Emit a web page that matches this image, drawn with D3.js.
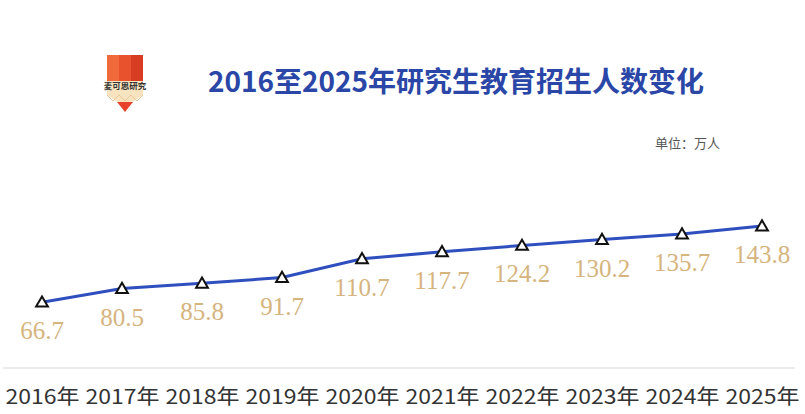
<!DOCTYPE html>
<html>
<head>
<meta charset="utf-8">
<script src="https://cdn.jsdelivr.net/npm/d3@7"></script>
<style>
  body { margin: 0; background: #fff; }
  svg { display: block; }
</style>
</head>
<body>
<svg id="chart"></svg>
<script>
// data
const years = ["2016年", "2017年", "2018年", "2019年", "2020年", "2021年", "2022年", "2023年", "2024年", "2025年"];
const enrollment = [66.7, 80.5, 85.8, 91.7, 110.7, 117.7, 124.2, 130.2, 135.7, 143.8];
const title = "2016至2025年研究生教育招生人数变化";
const unitLabel = "单位：万人";

const width = 805, height = 414;
const svg = d3.select("#chart").attr("width", width).attr("height", height);

// scales
const x = d3.scalePoint().domain(years).range([42, 762]);
const y = d3.scaleLinear().domain([0, 150]).range([368, 220]);

// logo (pencil)
const logo = svg.append("g").attr("transform", "translate(107,55)");
logo.append("rect").attr("x", 0).attr("y", 0).attr("width", 12).attr("height", 26).attr("fill", "#f06a3c");
logo.append("rect").attr("x", 12).attr("y", 0).attr("width", 12).attr("height", 26).attr("fill", "#e8532e");
logo.append("rect").attr("x", 24).attr("y", 0).attr("width", 12).attr("height", 26).attr("fill", "#d63d22");
logo.append("path").attr("d", "M0,26 L36,26 L36,40 L18,52 L0,40 Z").attr("fill", "#f7e3c0");
logo.append("path").attr("d", "M0,40 L6,46 L12,40 L18,46 L24,40 L30,46 L36,40").attr("fill", "none").attr("stroke", "#e8c896").attr("stroke-width", 1);
logo.append("path").attr("d", "M10,47 L26,47 L18,57 Z").attr("fill", "#e8432a");
logo.append("text").attr("x", 18).attr("y", 34).attr("text-anchor", "middle")
  .attr("font-family", "Noto Sans CJK SC").attr("font-size", 8.5).attr("font-weight", "bold")
  .attr("fill", "#333").text("麦可思研究");

// title
svg.append("text")
  .attr("x", 456).attr("y", 92)
  .attr("text-anchor", "middle")
  .attr("font-family", "Noto Sans CJK SC")
  .attr("font-weight", "bold")
  .attr("font-size", 28)
  .attr("fill", "#2a46a6")
  .text(title);

// unit
svg.append("text")
  .attr("x", 720).attr("y", 148)
  .attr("text-anchor", "end")
  .attr("font-family", "Noto Sans CJK SC")
  .attr("font-size", 13)
  .attr("fill", "#555")
  .text(unitLabel);

// baseline
svg.append("line")
  .attr("x1", 3).attr("x2", 795)
  .attr("y1", y(0)).attr("y2", y(0))
  .attr("stroke", "#e6e6e6").attr("stroke-width", 1.5);

// x axis labels
const xAxis = d3.axisBottom(x).tickSize(0).tickPadding(0);
const gx = svg.append("g").attr("transform", `translate(0,${y(0)})`).call(xAxis);
gx.select(".domain").remove();
gx.selectAll("text")
  .attr("y", 36)
  .attr("dy", null)
  .attr("font-family", "Noto Sans CJK SC")
  .attr("font-size", 20)
  .attr("fill", "#333")
  .attr("textLength", 74)
  .attr("lengthAdjust", "spacingAndGlyphs");

// line
const line = d3.line().x((d, i) => x(years[i])).y(d => y(d));
svg.append("path")
  .datum(enrollment)
  .attr("fill", "none")
  .attr("stroke", "#2f4fbf")
  .attr("stroke-width", 3)
  .attr("d", line);

// markers
const tri = d3.symbol().type(d3.symbolTriangle).size(60);
svg.selectAll(".marker")
  .data(enrollment)
  .enter().append("path")
  .attr("class", "marker")
  .attr("transform", (d, i) => `translate(${x(years[i])},${y(d) + 1})`)
  .attr("d", tri)
  .attr("fill", "#fff")
  .attr("stroke", "#111")
  .attr("stroke-width", 2);

// value labels
svg.selectAll(".value")
  .data(enrollment)
  .enter().append("text")
  .attr("class", "value")
  .attr("x", (d, i) => x(years[i]))
  .attr("y", d => y(d) + 37)
  .attr("text-anchor", "middle")
  .attr("font-family", "Liberation Serif")
  .attr("font-size", 25)
  .attr("fill", "#d6b47e")
  .text(d => d.toFixed(1));
</script>
</body>
</html>
